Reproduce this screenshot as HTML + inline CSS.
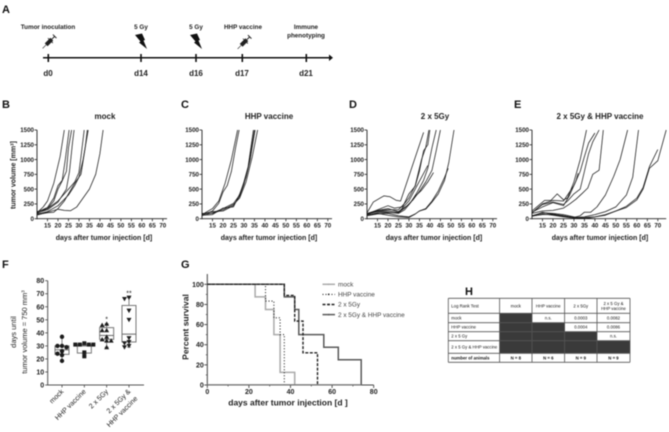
<!DOCTYPE html>
<html><head><meta charset="utf-8"><title>Tumor study figure</title>
<style>
html,body{margin:0;padding:0;background:#fff;width:669px;height:432px;overflow:hidden}
svg{display:block;filter:blur(.4px)}
text{font-family:"Liberation Sans",sans-serif;fill:#222}
.b{font-weight:bold}
.letter{font-weight:bold;font-size:11px;fill:#111}
.title{font-weight:bold;font-size:8px;text-anchor:middle}
.xt{font-weight:bold;font-size:7px;text-anchor:middle}
.tk{font-weight:bold;font-size:6.2px}
.lbl{font-weight:bold;font-size:6.3px;text-anchor:middle}
.day{font-weight:bold;font-size:8px;text-anchor:middle}
.lg{font-size:6.4px;fill:#444}
.tb{font-size:4.3px;fill:#111}
</style></head>
<body>
<svg id="fig" width="669" height="432" viewBox="0 0 669 432" xmlns="http://www.w3.org/2000/svg">
<g>
<text class="letter" x="2" y="13">A</text>
<line x1="43" y1="57.7" x2="331" y2="57.7" stroke="#111" stroke-width="1.5"/>
<polygon points="329,54.5 333,57.7 329,61" fill="#111"/>
<g stroke="#111" stroke-width="1.6">
<line x1="48.3" y1="54" x2="48.3" y2="62"/><line x1="141" y1="54" x2="141" y2="62"/><line x1="196" y1="54" x2="196" y2="62"/><line x1="242.3" y1="54" x2="242.3" y2="62"/><line x1="306.3" y1="54" x2="306.3" y2="62"/>
</g>
<text class="day" x="48" y="76">d0</text>
<text class="day" x="141" y="76">d14</text>
<text class="day" x="196" y="76">d16</text>
<text class="day" x="242" y="76">d17</text>
<text class="day" x="306" y="76">d21</text>
<text class="lbl" x="48" y="29">Tumor inoculation</text>
<text class="lbl" x="141" y="29">5 Gy</text>
<text class="lbl" x="196" y="29">5 Gy</text>
<text class="lbl" x="243" y="29">HHP vaccine</text>
<text class="lbl" x="306" y="29">Immune</text>
<text class="lbl" x="306" y="37.5">phenotyping</text>
<g transform="translate(49,42) rotate(-45)">
<line x1="-9" y1="0" x2="-4" y2="0" stroke="#222" stroke-width=".6"/><rect x="-4" y="-2" width="8" height="4" fill="#222"/><line x1="4" y1="0" x2="8" y2="0" stroke="#222" stroke-width="1"/><line x1="8" y1="-2.5" x2="8" y2="2.5" stroke="#222" stroke-width="1"/><line x1="2" y1="-3.5" x2="2" y2="3.5" stroke="#222" stroke-width=".8"/>
</g>
<g transform="translate(244,42.5) rotate(-45)">
<line x1="-9" y1="0" x2="-4" y2="0" stroke="#222" stroke-width=".6"/><rect x="-4" y="-2" width="8" height="4" fill="#222"/><line x1="4" y1="0" x2="8" y2="0" stroke="#222" stroke-width="1"/><line x1="8" y1="-2.5" x2="8" y2="2.5" stroke="#222" stroke-width="1"/><line x1="2" y1="-3.5" x2="2" y2="3.5" stroke="#222" stroke-width=".8"/>
</g>
<polygon points="135,35 142,33.5 145,40 143.5,40.5 147,49 139,42.5 140.5,41.5" fill="#111"/>
<polygon points="190,35 197,33.5 200,40 198.5,40.5 202,49 194,42.5 195.5,41.5" fill="#111"/>
</g>
<text class="letter" x="2" y="108">B</text>
<text class="letter" x="181" y="108">C</text>
<text class="letter" x="349" y="108">D</text>
<text class="letter" x="514" y="108">E</text>
<text class="letter" x="2" y="268">F</text>
<text class="letter" x="181" y="268">G</text>
<text class="letter" x="465" y="295">H</text>
<text class="title" x="105" y="119">mock</text>
<text class="title" x="269" y="119">HHP vaccine</text>
<text class="title" x="435" y="119">2 x 5Gy</text>
<text class="title" x="600" y="119">2 x 5Gy &amp; HHP vaccine</text>
<text class="xt" x="104" y="240">days after tumor injection [d]</text>
<text class="xt" x="269" y="240">days after tumor injection [d]</text>
<text class="xt" x="434" y="240">days after tumor injection [d]</text>
<text class="xt" x="600" y="240">days after tumor injection [d]</text>
<text class="xt" transform="translate(15.5,175) rotate(-90)">tumor volume [mm<tspan dy="-2" font-size="4.5">3</tspan><tspan dy="2">]</tspan></text>
<text transform="translate(16,332) rotate(-90)" font-size="7.5" text-anchor="middle">days until</text>
<text transform="translate(27,332) rotate(-90)" font-size="7.5" text-anchor="middle">tumor  volume = 750 mm<tspan dy="-2.5" font-size="4.5">3</tspan></text>
<text transform="translate(188.5,327) rotate(-90)" font-size="8.5" font-weight="bold" text-anchor="middle" fill="#333">Percent survival</text>
<text x="288" y="405.5" font-size="8.5" font-weight="bold" text-anchor="middle" fill="#333">days after tumor injection [d ]</text>
<g id="g-growth"></g>
<g id="g-box"></g>
<g id="g-surv"></g>
<g id="g-table"></g>
</svg>
<script>
// ---- growth curve data: [day, tumor volume]
const growthXTicks = [15,20,25,30,35,40,45,50,55,60,65,70];
const growthYTicks = [0,250,500,750,1000,1250,1500];
const mockCurves = [
 [[10,100],[13,200],[15,300],[18,600],[21,1050],[23,1500]],
 [[10,110],[15,190],[18,350],[20,560],[22,650],[23.5,1000],[25.3,1500]],
 [[10,90],[15,170],[18,300],[20,500],[22,640],[24,800],[25,1200],[26.5,1500]],
 [[10,100],[15,150],[20,280],[24,500],[25.5,800],[27,1300],[27.7,1500]],
 [[10,120],[15,170],[20,300],[25,500],[28,620],[30,780],[31,1050],[32.5,1500]],
 [[10,80],[15,120],[20,220],[25,400],[28,560],[30,700],[32,1000],[34.4,1500]],
 [[10,70],[15,100],[18,110],[20,170],[23,300],[28,600],[31,750],[33,1200],[34,1500]],
 [[10,60],[15,110],[20,160],[23,140],[26,135],[29,200],[32,350],[35,500],[38,750],[40,1100],[41.5,1500]]
];
const vaccineCurves = [
 [[10,70],[15,170],[18,300],[21,600],[24,1000],[27,1500]],
 [[10,60],[15,130],[18,260],[20,450],[22,560],[24,800],[26,1200],[27.7,1500]],
 [[10,50],[15,100],[20,170],[25,260],[28,400],[30,620],[32,880],[34.5,1500]],
 [[10,80],[15,120],[20,130],[25,220],[28,380],[30,580],[32,850],[35,1500]],
 [[10,60],[15,70],[20,180],[25,200],[28,420],[31,700],[33,1000],[35.3,1500]],
 [[10,90],[15,90],[20,150],[25,240],[28,350],[31,620],[34,1050],[36.5,1500]]
];
const irradiatedCurves = [
 [[10,100],[13,280],[18,385],[21,370],[24,310],[26,300],[37,1460]],
 [[10,80],[15,150],[20,220],[23,180],[27,200],[30,420],[33,550],[35,800],[37,1150],[39,1250],[40,1500]],
 [[10,70],[15,130],[20,150],[25,150],[28,260],[30,350],[33,560],[36,1000],[38,1200],[39.5,1500]],
 [[10,80],[15,120],[20,110],[25,90],[28,150],[31,280],[34,450],[37,650],[39,850],[41,1200],[43,1500]],
 [[10,60],[15,100],[20,100],[25,100],[28,180],[32,320],[35,460],[38,620],[41,820],[43,1150],[45,1500]],
 [[10,50],[15,80],[20,90],[25,50],[30,30],[33,80],[35,130],[38,160],[41,280],[44,420],[47,650],[49,950],[51.5,1500]],
 [[10,60],[15,90],[20,60],[25,30],[30,20],[33,80],[35,130],[38,170],[41,300],[44,470],[47,700],[48.7,850]],
 [[10,90],[15,140],[20,170],[25,120],[30,240],[33,380],[36,480],[39,620],[41.7,780]],
 [[10,80],[15,130],[20,130],[25,110],[30,300],[33,500],[36,700],[39,900]]
];
const comboCurves = [
 [[10,130],[13,220],[16,310],[19,310],[22,420],[25,320],[27,350],[30,620],[33,1000],[36,1500]],
 [[10,100],[15,240],[20,280],[25,240],[27,300],[30,420],[33,500],[35,800],[37,1100],[39,1300],[42,1500]],
 [[10,90],[15,130],[20,140],[25,180],[28,250],[31,330],[34,430],[36.6,520],[39,750],[42,820],[44,1500]],
 [[10,110],[15,200],[20,270],[25,220],[28,400],[31,640],[32,770]],
 [[10,100],[15,250],[20,310],[25,300],[30,560],[33,800],[35,1050],[37,1280],[40,1450]],
 [[10,50],[15,100],[20,80],[25,50],[30,20],[33,50],[35,110],[38,110],[41,200],[45,400],[49,720],[52,1000],[55.6,1500]],
 [[10,40],[15,110],[20,70],[25,40],[30,20],[35,30],[40,70],[45,120],[50,200],[55,400],[58,700],[60.8,1500]],
 [[10,40],[15,80],[20,60],[25,30],[30,10],[35,20],[40,30],[45,60],[50,130],[55,190],[60,320],[63,500],[66,850],[70,980],[74,1500]],
 [[10,45],[15,70],[20,70],[25,50],[30,10],[35,5],[40,30],[45,70],[50,130],[55,210],[60,350],[63,530],[66,880],[70,1170]],
 [[10,50],[15,100],[20,90],[25,70],[30,30],[35,10],[40,0]]
];
// ---- box plot data
const boxCategories = ['mock','HHP vaccine','2 x 5Gy','2 x 5Gy & HHP vaccine'];
const boxYTicks = [0,10,20,30,40,50,60,70,80];
const boxMins = [18.5,22,29,29];
const boxQ1 = [23.5,24.5,35,33];
const boxMedians = [27,30,38,39];
const boxQ3 = [30,31,44,61];
const boxMaxes = [37,32,47,67];
const boxPoints = [
 [37,30,30,29,26,24,23,18.5],
 [32,31,31,31,31,25,22],
 [47,46,42,42,37,35,34,34,29],
 [67,66,57,50,36,33,32,30,29]
];
const boxStars = ['', '', '*', '**'];
// ---- survival data: [day, percent] step points
const survXTicks = [0,20,40,60,80];
const survYTicks = [0,20,40,60,80,100];
const survMock = [[0,100],[23,87.5],[28,75],[32,50],[35,12.5],[42,0]];
const survVaccine = [[0,100],[28,83.3],[32,66.7],[35,50],[37,0]];
const survIrradiated = [[0,100],[37,89],[42,63.5],[46,32],[53,0]];
const survCombo = [[0,100],[37,87.5],[42,75],[44,50],[56,37.5],[63,25],[74,0]];
const survLabels = ['mock','HHP vaccine','2 x 5Gy','2 x 5Gy & HHP vaccine'];
// ---- table data
const tableHeader = ['Log Rank Test','mock','HHP vaccine','2 x 5Gy','2 x 5 Gy &|HHP vaccine'];
const tableRows = [
 ['mock','#','n.s.','0.0003','0.0082'],
 ['HHP vaccine','#','#','0.0004','0.0086'],
 ['2 x 5 Gy','#','#','#','n.s.'],
 ['2 x 5 Gy & HHP vaccine','#','#','#','#'],
 ['number of animals','N = 8','N = 6','N = 9','N = 9']
];

const NS='http://www.w3.org/2000/svg';
function add(parent,tag,attrs,txt){
  const el=document.createElementNS(NS,tag);
  for(const k in attrs) el.setAttribute(k,attrs[k]);
  if(txt!==undefined) el.textContent=txt;
  parent.appendChild(el);
  return el;
}
// growth panels
const gGrowth=document.getElementById('g-growth');
const growthPanels=[['b',37,mockCurves],['c',202,vaccineCurves],['d',367,irradiatedCurves],['e',532,comboCurves]];
const gyBase=218.7, gyTop=130;
const gy=v=>gyBase-v*(gyBase-gyTop)/1500;
growthPanels.forEach(function(p){
  const key=p[0],ax=p[1],curves=p[2];
  const gx=d=>ax+(d-10)*2.097;
  const g=add(gGrowth,'g',{});
  
  
  const yAxis=add(g,'line',{x1:ax,x2:ax,y1:gyTop,y2:gyBase+.5,stroke:'#222','stroke-width':.9});
  
  
  const xEnd=gx(key==='e'?74:72);
  const xAxis=add(g,'line',{x1:ax,x2:xEnd,y1:gyBase,y2:gyBase,stroke:'#222','stroke-width':.9});
  
  
  growthYTicks.forEach(function(t){
    add(g,'line',{x1:ax-2.5,x2:ax,y1:gy(t),y2:gy(t),stroke:'#222','stroke-width':.8});
    const lb=add(g,'text',{x:ax-3,y:gy(t)+2.2,'text-anchor':'end','class':'tk'},t);
    
    
  });
  growthXTicks.forEach(function(t){
    add(g,'line',{x1:gx(t),x2:gx(t),y1:gyBase,y2:gyBase+2.5,stroke:'#222','stroke-width':.8});
    const lb=add(g,'text',{x:gx(t),y:gyBase+9,'text-anchor':'middle','class':'tk'},t);
    
    
  });
  curves.forEach(function(c,i){
    const pl=add(g,'polyline',{points:c.map(pt=>gx(pt[0]).toFixed(1)+','+gy(pt[1]).toFixed(1)).join(' '),fill:'none',stroke:'#1a1a1a','stroke-width':.75,'stroke-linejoin':'round'});
    
    
  });
});
// box plot
const gBox=document.getElementById('g-box');
const fx0=47.7,fxEnd=144,fyB=385,fyT=280.7;
const fy=v=>fyB-v*(fyB-fyT)/80;
const fCat=i=>62+i*22.33;
const fa=add(gBox,'path',{d:'M'+fx0+' '+fyT+'V'+fyB+'H'+fxEnd,fill:'none',stroke:'#555','stroke-width':1});


boxYTicks.forEach(function(t){
  add(gBox,'line',{x1:fx0-2.5,x2:fx0,y1:fy(t),y2:fy(t),stroke:'#444','stroke-width':.8});
  const lb=add(gBox,'text',{x:fx0-3.5,y:fy(t)+2.5,'text-anchor':'end','font-size':7,'font-weight':'bold',fill:'#333'},t);
  
  
});
boxCategories.forEach(function(c,i){
  const x=fCat(i),w=7;
  add(gBox,'line',{x1:x,x2:x,y1:fyB,y2:fyB+2.5,stroke:'#444','stroke-width':.8});
  const g=add(gBox,'g',{});
  
  
  add(g,'line',{x1:x,x2:x,y1:fy(boxMaxes[i]),y2:fy(boxMins[i]),stroke:'#666','stroke-width':.8});
  add(g,'rect',{x:x-w,y:fy(boxQ3[i]),width:2*w,height:fy(boxQ1[i])-fy(boxQ3[i]),fill:'#fff',stroke:'#777','stroke-width':1});
  add(g,'line',{x1:x-w,x2:x+w,y1:fy(boxMedians[i]),y2:fy(boxMedians[i]),stroke:'#666','stroke-width':1});
  add(g,'line',{x1:x-2,x2:x+2,y1:fy(boxMaxes[i]),y2:fy(boxMaxes[i]),stroke:'#666','stroke-width':.7});
  add(g,'line',{x1:x-2,x2:x+2,y1:fy(boxMins[i]),y2:fy(boxMins[i]),stroke:'#666','stroke-width':.7});
  const placed=[];
  boxPoints[i].forEach(function(v){
    const y=fy(v);let off=0;
    const steps=[0,-4.5,4.5,-9,9];
    for(const s of steps){
      if(!placed.some(q=>Math.abs(q[0]-s)<4&&Math.abs(q[1]-y)<3.2)){off=s;break;}
    }
    placed.push([off,y]);
    const px=x+off;let m;
    if(i===0) m=add(g,'circle',{cx:px,cy:y,r:2.2,fill:'#1c1c1c'});
    else if(i===1) m=add(g,'rect',{x:px-2,y:y-2,width:4,height:4,fill:'#1c1c1c'});
    else if(i===2) m=add(g,'polygon',{points:(px-2.5)+','+(y+2)+' '+(px+2.5)+','+(y+2)+' '+px+','+(y-2.4),fill:'#1c1c1c'});
    else m=add(g,'polygon',{points:(px-2.5)+','+(y-2)+' '+(px+2.5)+','+(y-2)+' '+px+','+(y+2.4),fill:'#1c1c1c'});
    
    
  });
  if(boxStars[i]){
    const st=add(g,'text',{x:x,y:fy(boxMaxes[i])-2,'text-anchor':'middle','font-size':7},boxStars[i]);
    
    
  }
  const parts=c==='2 x 5Gy & HHP vaccine'?['2 x 5Gy &','HHP vaccine']:[c];
  parts.forEach(function(s,j){
    const lx=x+2+(j*7),ly=392+(j*7);
    const t=add(gBox,'text',{x:lx,y:ly,'text-anchor':'end','font-size':7,transform:'rotate(-45 '+lx+' '+ly+')'},s);
    
    
  });
});
// survival
const gSurv=document.getElementById('g-surv');
const sx=d=>207.3+d*(373.7-207.3)/80;
const sy=v=>385-v*(385-284.3)/100;
const sAxis=add(gSurv,'path',{d:'M'+sx(0)+' 274V385H'+sx(80),fill:'none',stroke:'#444','stroke-width':1});


survXTicks.forEach(function(t){
  add(gSurv,'line',{x1:sx(t),x2:sx(t),y1:385,y2:388,stroke:'#444','stroke-width':.9});
  if(t<80) add(gSurv,'line',{x1:sx(t+10),x2:sx(t+10),y1:385,y2:386.5,stroke:'#444','stroke-width':.7});
  const lb=add(gSurv,'text',{x:sx(t),y:394,'text-anchor':'middle','font-size':7,'font-weight':'bold',fill:'#333'},t);
  
  
});
survYTicks.forEach(function(t){
  add(gSurv,'line',{x1:sx(0)-3,x2:sx(0),y1:sy(t),y2:sy(t),stroke:'#444','stroke-width':.9});
  if(t<100) add(gSurv,'line',{x1:sx(0)-1.5,x2:sx(0),y1:sy(t+10),y2:sy(t+10),stroke:'#444','stroke-width':.7});
  const lb=add(gSurv,'text',{x:sx(0)-3.5,y:sy(t)+2.5,'text-anchor':'end','font-size':7,'font-weight':'bold',fill:'#333'},t);
  
  
});
function stepPath(s){
  let d='M'+sx(s[0][0]).toFixed(1)+' '+sy(s[0][1]).toFixed(1);
  for(let i=1;i<s.length;i++){d+='H'+sx(s[i][0]).toFixed(1)+'V'+sy(s[i][1]).toFixed(1);}
  return d;
}
const survSeries=[
 [survMock,'#aaa',1.5,''],
 [survVaccine,'#222',1.1,'1 2'],
 [survIrradiated,'#222',1.4,'3 1.5'],
 [survCombo,'#5a5a5a',1.5,'']
];
[survSeries[0],survSeries[3],survSeries[1],survSeries[2]].forEach(function(s){
  const pth=add(gSurv,'path',{d:stepPath(s[0]),fill:'none',stroke:s[1],'stroke-width':s[2],'stroke-dasharray':s[3]||'none'});
  
  
});
const base=add(gSurv,'line',{x1:sx(0),x2:sx(74),y1:384.6,y2:384.6,stroke:'#888','stroke-width':1});


survLabels.forEach(function(l,i){
  const y=284.3+i*10.1,s=survSeries[i];
  const g=add(gSurv,'g',{});
  
  
  add(g,'line',{x1:322.5,x2:335,y1:y,y2:y,stroke:s[1],'stroke-width':s[2],'stroke-dasharray':s[3]||'none'});
  add(g,'circle',{cx:328.7,cy:y,r:.9,fill:s[1]});
  add(g,'text',{x:338,y:y+2.2,'class':'lg'},l);
});
// table
const gT=document.getElementById('g-table');
const cols=[448.3,499.6,532,564.6,597,630];
const rowsY=[298.3,313.3,322.7,331.7,340.7,353.3,362.3];
function cellText(r,c,s,bold){
  const cx=c===0?cols[0]+3:(cols[c]+cols[c+1])/2;
  const lines=s.split('|');
  const cy=(rowsY[r]+rowsY[r+1])/2;
  lines.forEach(function(l,j){
    const y=cy+1.5+(j-(lines.length-1)/2)*5;
    const t=add(gT,'text',{x:cx,y:y,'class':'tb','text-anchor':c===0?'start':'middle','font-weight':bold?'bold':'normal'},l);
    
    
  });
}
tableRows.forEach(function(row,r){
  row.forEach(function(v,c){
    if(v==='#'){
      const rc=add(gT,'rect',{x:cols[c],y:rowsY[r+1],width:cols[c+1]-cols[c],height:rowsY[r+2]-rowsY[r+1],fill:'#3a3a3a'});
      
      
    } else cellText(r+1,c,v,r===4);
  });
});
tableHeader.forEach(function(v,c){cellText(0,c,v,false);});
cols.forEach(function(x){add(gT,'line',{x1:x,x2:x,y1:rowsY[0],y2:rowsY[6],stroke:'#555','stroke-width':.8});});
rowsY.forEach(function(y){add(gT,'line',{x1:cols[0],x2:cols[5],y1:y,y2:y,stroke:'#555','stroke-width':.8});});
</script>
</body></html>
